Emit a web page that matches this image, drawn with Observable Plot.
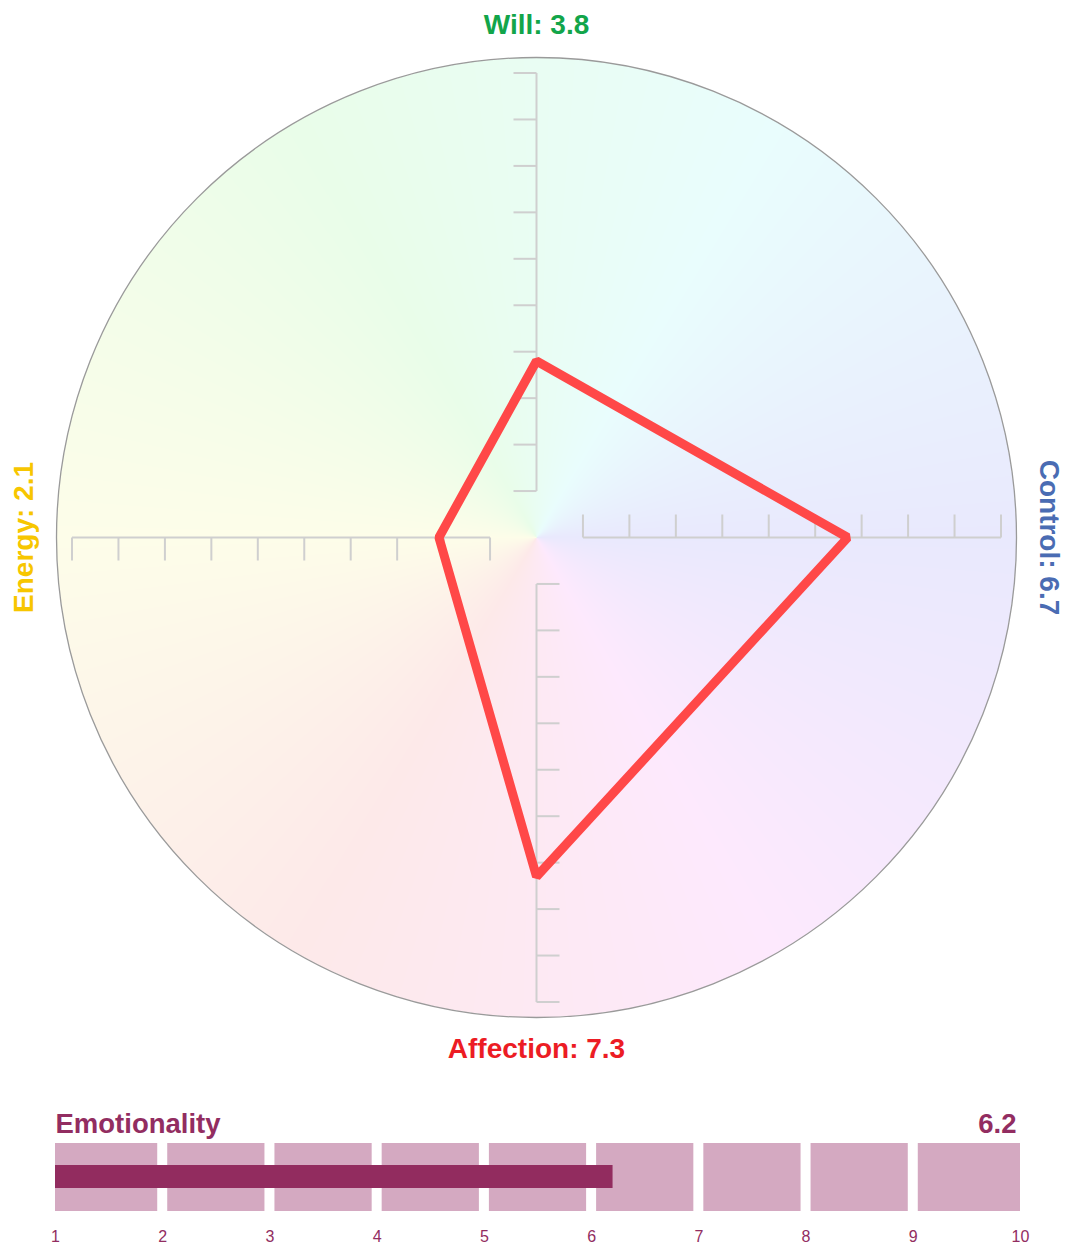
<!DOCTYPE html>
<html><head><meta charset="utf-8">
<script src="https://cdn.jsdelivr.net/npm/d3@7"></script>
<script src="https://cdn.jsdelivr.net/npm/@observablehq/plot@0.6"></script>
<style>
html,body{margin:0;padding:0;background:#fff;overflow:hidden;}
#chart svg{display:block}
</style></head><body><div id="chart"></div>
<script>
// ---- data ----
const dimensions = ["Will", "Control", "Affection", "Energy"];
const values = [3.8, 6.7, 7.3, 2.1];
const labelColors = ["#12a54a", "#4a6cb3", "#ec1c24", "#f7c600"];
const axisTicks = [1, 2, 3, 4, 5, 6, 7, 8, 9, 10];
const barLabel = "Emotionality";
const barValue = 6.2;
const barTicks = [1, 2, 3, 4, 5, 6, 7, 8, 9, 10];
const segmentStarts = [1, 2, 3, 4, 5, 6, 7, 8, 9];

// ---- layout ----
const W = 1065, H1 = 1075, H2 = 170;
const cx = 536, cy = 537, unit = 46.45;      // px per value unit
const Rpx = 480;
const R = Rpx / unit;
const labelR = 512 / unit;
const tickLen = 23 / unit;
const font = "'Liberation Sans', Arial, Helvetica, sans-serif";
const dirs = [[0, 1], [1, 0], [0, -1], [-1, 0]];   // up, right, down, left
const rotations = [0, 90, 0, -90];

// axis lines and ticks
const axisLines = dimensions.map((d, i) => {
  const [dx, dy] = dirs[i];
  return {x1: dx * axisTicks[0], y1: dy * axisTicks[0], x2: dx * axisTicks[axisTicks.length - 1], y2: dy * axisTicks[axisTicks.length - 1]};
});
const tickMarks = dimensions.flatMap((d, i) => {
  const [dx, dy] = dirs[i];
  const [px, py] = [-dy, dx];
  return axisTicks.map(t => ({x1: dx * t, y1: dy * t, x2: dx * t + px * tickLen, y2: dy * t + py * tickLen}));
});
const polygon = dimensions.map((d, i) => ({x: dirs[i][0] * values[i], y: dirs[i][1] * values[i]}));
const labels = dimensions.map((d, i) => ({
  text: `${d}: ${values[i]}`, x: dirs[i][0] * labelR, y: dirs[i][1] * labelR,
  rotate: rotations[i], fill: labelColors[i]
}));

// conic background colour cache
const hueCache = Array.from({length: 3600}, (_, k) => d3.hsl(k / 10, 0.83, 0.953).formatHex());
const rClip = (Rpx - 0.3) / unit;
function bg(x, y) {
  if (x * x + y * y > rClip * rClip) return null;
  let theta = Math.atan2(x, y) * 180 / Math.PI; // 0 at top, clockwise
  let h = ((150 + theta) % 360 + 360) % 360;
  return hueCache[Math.floor(h * 10) % 3600];
}

const radar = Plot.plot({
  width: W, height: H1, margin: 0,
  x: {domain: [-cx / unit, (W - cx) / unit], axis: null},
  y: {domain: [(cy - H1) / unit, cy / unit], axis: null},
  color: {type: "identity"},
  style: {fontFamily: font, background: "#fff"},
  marks: [
    Plot.raster({x1: -R - 0.1, x2: R + 0.1, y1: -R - 0.1, y2: R + 0.1, pixelSize: 1, fill: bg, imageRendering: "auto"}),
    Plot.dot([{x: 0, y: 0}], {x: "x", y: "y", r: Rpx, fill: "none", stroke: "#9a9a9a", strokeWidth: 1.3}),
    Plot.link(axisLines, {x1: "x1", y1: "y1", x2: "x2", y2: "y2", stroke: "#cfcfcf", strokeWidth: 2}),
    Plot.link(tickMarks, {x1: "x1", y1: "y1", x2: "x2", y2: "y2", stroke: "#cfcfcf", strokeWidth: 2}),
    Plot.line(polygon, {x: "x", y: "y", curve: "linear-closed", stroke: "#ff4848", strokeWidth: 9, strokeLinejoin: "miter"}),
    Plot.text(labels, {x: "x", y: "y", text: "text", rotate: "rotate", fill: "fill",
      fontSize: 28, fontWeight: "bold", textAnchor: "middle", lineAnchor: "middle"})
  ]
});

const segColor = "#d4a9c1", barColor = "#922c5f", textColor = "#922d61";
const bar = Plot.plot({
  width: W, height: H2, marginLeft: 55, marginRight: 45, marginTop: 68, marginBottom: 34,
  x: {domain: [barTicks[0], barTicks[barTicks.length - 1]]},
  style: {fontFamily: font, color: textColor, background: "#fff"},
  marks: [
    Plot.rect(segmentStarts.filter((d, i) => i === 0), {x1: d => d, x2: d => d + 1, insetRight: 5, fill: segColor}),
    Plot.rect(segmentStarts.filter((d, i) => i > 0 && i < segmentStarts.length - 1), {x1: d => d, x2: d => d + 1, insetLeft: 5, insetRight: 5, fill: segColor}),
    Plot.rect(segmentStarts.filter((d, i) => i === segmentStarts.length - 1), {x1: d => d, x2: d => d + 1, insetLeft: 5, fill: segColor}),
    Plot.rect([barValue], {x1: () => barTicks[0], x2: d => d, insetTop: 22, insetBottom: 23, fill: barColor}),
    Plot.axisX(barTicks, {tickSize: 0, tickPadding: 19, fontSize: 16, fill: textColor, label: null}),
    Plot.text([barLabel], {frameAnchor: "top-left", text: d => d, textAnchor: "start", lineAnchor: "bottom", dy: -11, fontSize: 27.5, fontWeight: "bold", fill: textColor}),
    Plot.text([barValue], {frameAnchor: "top-right", text: d => String(d), textAnchor: "end", lineAnchor: "bottom", dy: -11, dx: -4, fontSize: 27.5, fontWeight: "bold", fill: textColor})
  ]
});

const host = document.getElementById("chart");
host.append(radar, bar);
</script>
</body></html>
